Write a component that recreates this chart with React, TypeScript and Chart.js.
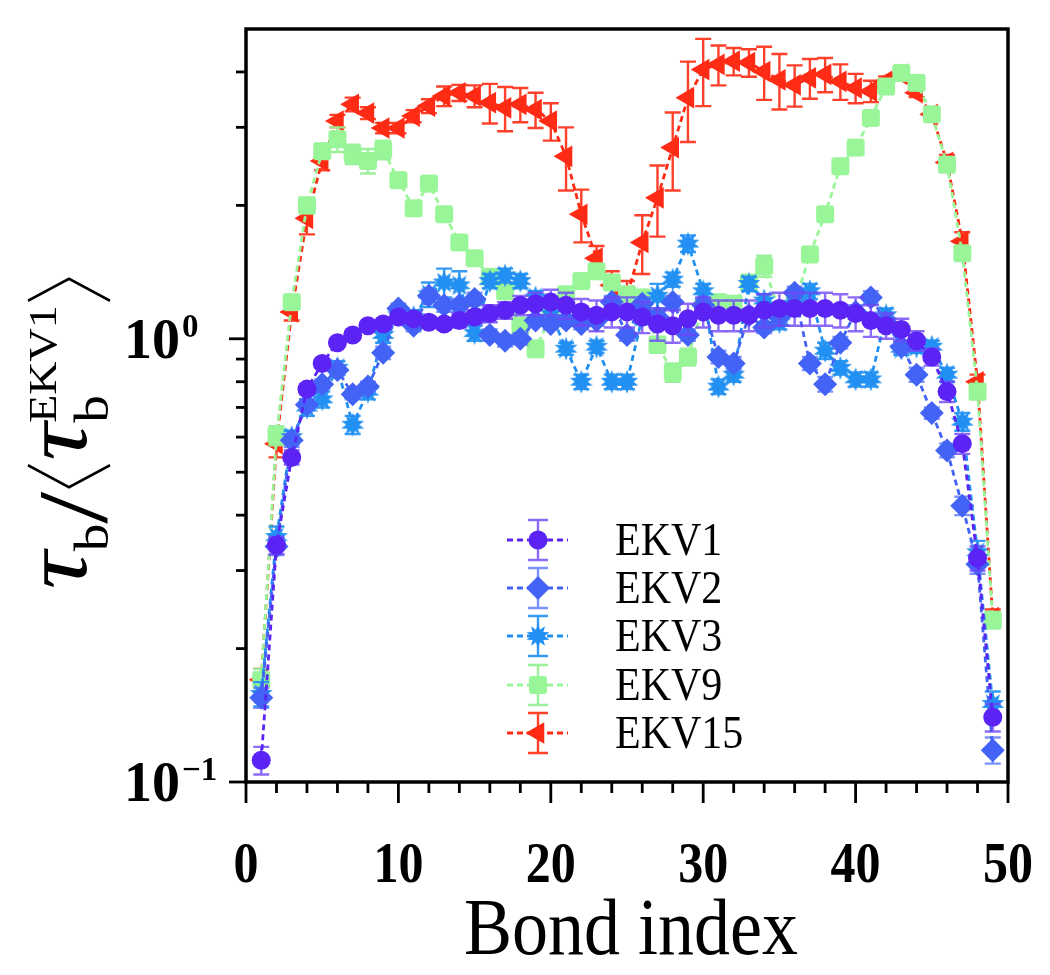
import React, { useEffect, useRef } from 'react';
import { Chart, registerables } from 'chart.js';

Chart.register(...registerables);

// ---------------- data ----------------
const bondIndex = [
  1, 2, 3, 4, 5, 6, 7, 8, 9, 10, 11, 12, 13, 14, 15, 16, 17, 18, 19, 20,
  21, 22, 23, 24, 25, 26, 27, 28, 29, 30, 31, 32, 33, 34, 35, 36, 37, 38, 39, 40,
  41, 42, 43, 44, 45, 46, 47, 48, 49,
];

const ekv1 = [
  0.112, 0.342, 0.54, 0.77, 0.88, 0.98, 1.02, 1.07, 1.08, 1.12,
  1.11, 1.09, 1.08, 1.10, 1.12, 1.14, 1.16, 1.19, 1.20, 1.21,
  1.19, 1.15, 1.13, 1.15, 1.15, 1.12, 1.08, 1.07, 1.11, 1.15,
  1.13, 1.13, 1.13, 1.16, 1.17, 1.17, 1.17, 1.17, 1.16, 1.14,
  1.10, 1.07, 1.05, 0.99, 0.91, 0.76, 0.58, 0.32, 0.14,
];
const ekv1Err = [
  0.008, 0.015, 0.02, 0.02, 0.02, 0.02, 0.02, 0.02, 0.02, 0.02,
  0.03, 0.03, 0.03, 0.04, 0.04, 0.05, 0.05, 0.06, 0.07, 0.08,
  0.08, 0.08, 0.09, 0.09, 0.09, 0.09, 0.09, 0.09, 0.09, 0.09,
  0.09, 0.09, 0.09, 0.1, 0.1, 0.1, 0.1, 0.1, 0.1, 0.1,
  0.09, 0.07, 0.06, 0.05, 0.04, 0.04, 0.03, 0.02, 0.01,
];

const ekv2 = [
  0.155, 0.34, 0.59, 0.71, 0.79, 0.85, 0.75, 0.78, 0.93, 1.17,
  1.07, 1.25, 1.19, 1.19, 1.23, 1.02, 0.99, 1.00, 1.10, 1.08,
  1.10, 1.08, 1.10, 1.21, 1.02, 1.20, 1.12, 1.21, 1.02, 1.19,
  0.91, 0.88, 1.13, 1.06, 1.12, 1.27, 0.88, 0.79, 0.98, 1.15,
  1.24, 1.09, 0.96, 0.83, 0.68, 0.56, 0.42, 0.31, 0.118,
];
const ekv2Err = [
  0.008, 0.015, 0.02, 0.02, 0.02, 0.02, 0.02, 0.02, 0.03, 0.03,
  0.03, 0.04, 0.04, 0.04, 0.04, 0.03, 0.03, 0.03, 0.03, 0.03,
  0.03, 0.03, 0.03, 0.04, 0.03, 0.04, 0.03, 0.04, 0.03, 0.04,
  0.03, 0.03, 0.03, 0.03, 0.03, 0.04, 0.03, 0.03, 0.03, 0.04,
  0.04, 0.03, 0.03, 0.03, 0.02, 0.02, 0.02, 0.015, 0.008,
];

const ekv3 = [
  0.158, 0.357, 0.60, 0.70, 0.73, 0.86, 0.64, 0.76, 1.02, 1.13,
  1.12, 1.26, 1.34, 1.32, 1.03, 1.35, 1.39, 1.35, 1.24, 1.14,
  0.95, 0.80, 0.96, 0.80, 0.80, 1.12, 1.25, 1.36, 1.64, 1.28,
  0.78, 0.83, 1.33, 1.22, 1.09, 1.20, 1.28, 0.94, 0.86, 0.81,
  0.81, 1.13, 0.95, 0.96, 0.96, 0.83, 0.65, 0.33, 0.15,
];
const ekv3Err = [
  0.01, 0.02, 0.02, 0.03, 0.03, 0.03, 0.03, 0.03, 0.04, 0.04,
  0.04, 0.08, 0.1, 0.1, 0.04, 0.05, 0.05, 0.05, 0.04, 0.04,
  0.03, 0.03, 0.03, 0.03, 0.03, 0.04, 0.08, 0.05, 0.07, 0.05,
  0.03, 0.03, 0.05, 0.04, 0.04, 0.04, 0.05, 0.04, 0.03, 0.03,
  0.03, 0.04, 0.03, 0.03, 0.03, 0.03, 0.03, 0.02, 0.01,
];

const ekv9 = [
  0.17, 0.605, 1.21, 2.0, 2.65, 2.82, 2.61, 2.52, 2.67, 2.28,
  1.97, 2.24, 1.91, 1.65, 1.52, 1.38, 1.28, 1.07, 0.95, 1.12,
  1.26, 1.35, 1.42, 1.34, 1.26, 1.24, 0.97, 0.84, 0.91, 1.18,
  1.21, 1.20, 1.34, 1.46, 1.15, 1.20, 1.55, 1.91, 2.45, 2.70,
  3.15, 3.71, 3.98, 3.78, 3.21, 2.47, 1.56, 0.76, 0.232,
];
const ekv9Err = [
  0.01, 0.03, 0.04, 0.08, 0.1, 0.18, 0.13, 0.16, 0.13, 0.05,
  0.05, 0.05, 0.05, 0.05, 0.05, 0.04, 0.04, 0.04, 0.04, 0.04,
  0.04, 0.04, 0.05, 0.04, 0.04, 0.04, 0.04, 0.04, 0.04, 0.04,
  0.04, 0.04, 0.05, 0.08, 0.04, 0.04, 0.05, 0.06, 0.06, 0.06,
  0.06, 0.06, 0.06, 0.06, 0.06, 0.06, 0.05, 0.03, 0.01,
];

const ekv15 = [
  0.17, 0.58, 1.15, 1.87, 2.52, 3.10, 3.38, 3.23, 2.99, 2.99,
  3.18, 3.35, 3.53, 3.59, 3.53, 3.41, 3.32, 3.38, 3.29, 3.10,
  2.58, 1.91, 1.52, 1.32, 1.25, 1.65, 2.08, 2.70, 3.50, 4.05,
  4.16, 4.23, 4.20, 4.01, 3.84, 3.74, 3.88, 3.95, 3.81, 3.68,
  3.62, 3.81, 3.95, 3.59, 3.21, 2.50, 1.66, 0.80, 0.235,
];
const ekv15Err = [
  0.01, 0.04, 0.05, 0.15, 0.12, 0.1, 0.12, 0.1, 0.08, 0.08,
  0.1, 0.12, 0.18, 0.15, 0.2, 0.35, 0.38, 0.3, 0.3, 0.3,
  0.42, 0.26, 0.1, 0.1, 0.1, 0.25, 0.38, 0.54, 0.72, 0.7,
  0.43, 0.3, 0.3, 0.55, 0.55, 0.4, 0.4, 0.35, 0.35, 0.28,
  0.2, 0.1, 0.1, 0.08, 0.08, 0.1, 0.08, 0.03, 0.01,
];

const seriesNames = ['EKV1', 'EKV2', 'EKV3', 'EKV9', 'EKV15'];
const seriesColors = ['#5b24f4', '#4263f5', '#2190f2', '#98f598', '#ff2b14'];
const errColors = [
  'rgba(110,70,246,0.8)',
  'rgba(90,120,246,0.8)',
  'rgba(33,144,242,0.9)',
  'rgba(150,240,150,0.95)',
  'rgba(255,43,20,0.9)',
];

const xTicks = [0, 10, 20, 30, 40, 50];
const yMajorTicks = [0.1, 1];
const yMinorTicks = [0.2, 0.3, 0.4, 0.5, 0.6, 0.7, 0.8, 0.9, 2, 3, 4];

// ---------------- marker images ----------------
function makeStar(color: string, r: number, spikes: number, inner: number) {
  const c = document.createElement('canvas');
  const s = Math.ceil(2 * r + 2);
  c.width = s;
  c.height = s;
  const g = c.getContext('2d')!;
  g.fillStyle = color;
  g.beginPath();
  for (let k = 0; k < spikes * 2; k++) {
    const a = (Math.PI * k) / spikes - Math.PI / 2;
    const rr = k % 2 === 0 ? r : r * inner;
    const px = s / 2 + Math.cos(a) * rr;
    const py = s / 2 + Math.sin(a) * rr;
    if (k === 0) g.moveTo(px, py);
    else g.lineTo(px, py);
  }
  g.closePath();
  g.fill();
  return c;
}

function makeRoundSquare(color: string, half: number, corner: number) {
  const c = document.createElement('canvas');
  const s = Math.ceil(2 * half + 2);
  c.width = s;
  c.height = s;
  const g = c.getContext('2d')!;
  g.fillStyle = color;
  const x0 = s / 2 - half;
  const y0 = s / 2 - half;
  const w = 2 * half;
  g.beginPath();
  g.moveTo(x0 + corner, y0);
  g.lineTo(x0 + w - corner, y0);
  g.quadraticCurveTo(x0 + w, y0, x0 + w, y0 + corner);
  g.lineTo(x0 + w, y0 + w - corner);
  g.quadraticCurveTo(x0 + w, y0 + w, x0 + w - corner, y0 + w);
  g.lineTo(x0 + corner, y0 + w);
  g.quadraticCurveTo(x0, y0 + w, x0, y0 + w - corner);
  g.lineTo(x0, y0 + corner);
  g.quadraticCurveTo(x0, y0, x0 + corner, y0);
  g.closePath();
  g.fill();
  return c;
}

const SERIF = '"Liberation Serif", "DejaVu Serif", serif';

const R_CIRCLE = 9.5;
const R_DIAMOND = 12;
const R_TRI = 12.5;

function drawMarker(ctx: CanvasRenderingContext2D, kind: number, x: number, y: number, color: string, img: any) {
  ctx.save();
  ctx.fillStyle = color;
  ctx.beginPath();
  if (kind === 0) {
    ctx.arc(x, y, R_CIRCLE, 0, Math.PI * 2);
    ctx.fill();
  } else if (kind === 1) {
    const r = R_DIAMOND;
    ctx.moveTo(x - r, y);
    ctx.lineTo(x, y - r);
    ctx.lineTo(x + r, y);
    ctx.lineTo(x, y + r);
    ctx.closePath();
    ctx.fill();
  } else if (kind === 4) {
    const r = R_TRI;
    ctx.moveTo(x - r, y);
    ctx.lineTo(x + r * 0.5, y - r * 0.866);
    ctx.lineTo(x + r * 0.5, y + r * 0.866);
    ctx.closePath();
    ctx.fill();
  } else if (img) {
    ctx.drawImage(img, x - img.width / 2, y - img.height / 2);
  }
  ctx.restore();
}

function stretchText(ctx: CanvasRenderingContext2D, text: string, x: number, y: number, sy: number) {
  ctx.save();
  ctx.translate(x, y);
  ctx.scale(1, sy);
  ctx.fillText(text, 0, 0);
  ctx.restore();
}

export default function App() {
  const ref = useRef<HTMLCanvasElement | null>(null);

  useEffect(() => {
    if (!ref.current) return;
    const starImg = makeStar(seriesColors[2], 12, 10, 0.55);
    const sqImg = makeRoundSquare(seriesColors[3], 9, 3);

    const values = [ekv1, ekv2, ekv3, ekv9, ekv15];
    const errs = [ekv1Err, ekv2Err, ekv3Err, ekv9Err, ekv15Err];
    const styles: any[] = ['circle', 'rectRot', starImg, sqImg, 'triangle'];
    const radii = [R_CIRCLE, R_DIAMOND, 12, 9, R_TRI];
    const rotations = [0, 0, 0, 0, -90];

    const datasets = values.map((vals, k) => ({
      label: seriesNames[k],
      data: bondIndex.map((x, i) => ({ x, y: vals[i] })),
      errors: errs[k],
      borderColor: seriesColors[k],
      backgroundColor: seriesColors[k],
      pointBackgroundColor: seriesColors[k],
      pointBorderColor: seriesColors[k],
      pointBorderWidth: 0,
      pointStyle: styles[k],
      pointRadius: radii[k],
      pointRotation: rotations[k],
      borderWidth: 2.8,
      borderDash: [6, 4],
      fill: false,
      tension: 0,
      clip: 20,
    }));

    const errorBarPlugin = {
      id: 'errorBars',
      beforeDatasetDraw(chart: any, args: any) {
        const ctx = chart.ctx;
        const ds = chart.data.datasets[args.index];
        const ys = chart.scales.y;
        ctx.save();
        ctx.strokeStyle = errColors[args.index];
        ctx.lineWidth = 2.4;
        ctx.setLineDash([]);
        args.meta.data.forEach((pt: any, i: number) => {
          const v = ds.data[i].y;
          const e = ds.errors[i];
          const top = ys.getPixelForValue(v + e);
          const bot = ys.getPixelForValue(Math.max(v - e, 0.001));
          const px = pt.x;
          ctx.beginPath();
          ctx.moveTo(px, top);
          ctx.lineTo(px, bot);
          ctx.moveTo(px - 8, top);
          ctx.lineTo(px + 8, top);
          ctx.moveTo(px - 8, bot);
          ctx.lineTo(px + 8, bot);
          ctx.stroke();
        });
        ctx.restore();
      },
    };

    const axesPlugin = {
      id: 'axesDecor',
      afterDraw(chart: any) {
        const ctx: CanvasRenderingContext2D = chart.ctx;
        const a = chart.chartArea;
        const xs = chart.scales.x;
        const ys = chart.scales.y;
        ctx.save();
        ctx.setLineDash([]);
        ctx.strokeStyle = '#000';
        ctx.lineWidth = 3.5;
        ctx.strokeRect(a.left, a.top, a.right - a.left, a.bottom - a.top);

        // y ticks
        ctx.lineWidth = 2.8;
        yMajorTicks.forEach((v) => {
          const py = ys.getPixelForValue(v);
          ctx.beginPath();
          ctx.moveTo(a.left - 17, py);
          ctx.lineTo(a.left, py);
          ctx.stroke();
        });
        yMinorTicks.forEach((v) => {
          const py = ys.getPixelForValue(v);
          ctx.beginPath();
          ctx.moveTo(a.left - 10, py);
          ctx.lineTo(a.left, py);
          ctx.stroke();
        });
        // x ticks
        for (let v = 0; v <= 50; v += 2) {
          const px = xs.getPixelForValue(v);
          const major = v % 10 === 0;
          ctx.beginPath();
          ctx.moveTo(px, a.bottom);
          ctx.lineTo(px, a.bottom + (major ? 21 : 11));
          ctx.stroke();
        }

        ctx.fillStyle = '#000';
        // x tick labels
        ctx.font = `bold 50px ${SERIF}`;
        ctx.textAlign = 'center';
        ctx.textBaseline = 'alphabetic';
        xTicks.forEach((v) => {
          stretchText(ctx, String(v), xs.getPixelForValue(v), 882, 1.12);
        });

        // y tick labels 10^0, 10^-1
        const yLabels = [
          { v: 1, sup: '0' },
          { v: 0.1, sup: '\u22121' },
        ];
        ctx.textAlign = 'left';
        yLabels.forEach((l) => {
          const py = ys.getPixelForValue(l.v);
          ctx.font = `bold 56px ${SERIF}`;
          const w1 = ctx.measureText('10').width;
          const left = 124;
          ctx.fillText('10', left, py + 19);
          ctx.font = `bold 33px ${SERIF}`;
          ctx.fillText(l.sup, left + w1 + 2, py - 2);
        });

        // x title
        ctx.font = `72px ${SERIF}`;
        ctx.textAlign = 'center';
        stretchText(ctx, 'Bond index', (a.left + a.right) / 2 + 4, 954, 1.12);

        // y title, rotated
        ctx.save();
        const baseX = 86;
        const centerY = 434;
        ctx.translate(baseX, centerY);
        ctx.rotate(-Math.PI / 2);
        ctx.scale(1.15, 1);
        ctx.textAlign = 'left';
        const fTau = `italic 92px ${SERIF}`;
        const fSub = `48px ${SERIF}`;
        const fSup = `40px ${SERIF}`;
        const fSlash = `100px ${SERIF}`;
        const meas = (f: string, t: string) => {
          ctx.font = f;
          return ctx.measureText(t).width;
        };
        const wTau = meas(fTau, '\u03c4');
        const wSub = meas(fSub, 'b');
        const wSlash = meas(fSlash, '/');
        const wSup = meas(fSup, 'EKV1');
        const wBr = 19;
        const gap = 4;
        const total = wTau + wSub + wSlash + wBr + gap * 2 + wTau + Math.max(wSub, wSup) + gap + wBr;
        let cx = -total / 2;
        ctx.font = fTau;
        ctx.fillText('\u03c4', cx, 0);
        cx += wTau;
        ctx.font = fSub;
        ctx.fillText('b', cx, 22);
        cx += wSub;
        ctx.font = fSlash;
        ctx.fillText('/', cx, 20);
        cx += wSlash + gap;
        // left angle bracket
        ctx.lineWidth = 2.4;
        ctx.strokeStyle = '#000';
        ctx.beginPath();
        ctx.moveTo(cx + wBr, -58);
        ctx.lineTo(cx, -17);
        ctx.lineTo(cx + wBr, 24);
        ctx.stroke();
        cx += wBr + gap;
        ctx.font = fTau;
        ctx.fillText('\u03c4', cx, 0);
        cx += wTau;
        ctx.font = fSub;
        ctx.fillText('b', cx, 22);
        ctx.font = fSup;
        ctx.fillText('EKV1', cx, -30);
        cx += Math.max(wSub, wSup) + gap;
        ctx.beginPath();
        ctx.moveTo(cx, -58);
        ctx.lineTo(cx + wBr, -17);
        ctx.lineTo(cx, 24);
        ctx.stroke();
        ctx.restore();

        // legend
        const rowY = [540, 588, 636, 685, 733];
        const imgs = [null, null, starImg, sqImg, null];
        seriesNames.forEach((name, k) => {
          const y = rowY[k];
          ctx.save();
          ctx.strokeStyle = seriesColors[k];
          ctx.lineWidth = 2.8;
          ctx.setLineDash([6, 4]);
          ctx.beginPath();
          ctx.moveTo(507, y);
          ctx.lineTo(568, y);
          ctx.stroke();
          ctx.setLineDash([]);
          ctx.strokeStyle = errColors[k];
          ctx.lineWidth = 2.4;
          ctx.beginPath();
          ctx.moveTo(538, y - 20);
          ctx.lineTo(538, y + 20);
          ctx.moveTo(528, y - 20);
          ctx.lineTo(548, y - 20);
          ctx.moveTo(528, y + 20);
          ctx.lineTo(548, y + 20);
          ctx.stroke();
          ctx.restore();
          drawMarker(ctx, k, 538, y, seriesColors[k], imgs[k]);
          ctx.fillStyle = '#000';
          ctx.font = `42px ${SERIF}`;
          ctx.textAlign = 'left';
          ctx.textBaseline = 'alphabetic';
          stretchText(ctx, name, 615, y + 15, 1.08);
        });
        ctx.restore();
      },
    };

    const chart = new Chart(ref.current, {
      type: 'line',
      data: { datasets: datasets as any },
      options: {
        responsive: true,
        maintainAspectRatio: false,
        animation: false,
        devicePixelRatio: 1,
        layout: { padding: { left: 246, right: 42, top: 29, bottom: 193 } },
        plugins: { legend: { display: false }, tooltip: { enabled: false } },
        scales: {
          x: { type: 'linear', min: 0, max: 50, display: false },
          y: { type: 'logarithmic', min: 0.1, max: 5, display: false },
        },
      },
      plugins: [errorBarPlugin, axesPlugin],
    });
    return () => chart.destroy();
  }, []);

  return (
    <div style={{ position: 'absolute', left: 0, top: 0, width: 1050, height: 975, background: '#fff' }}>
      <canvas ref={ref} />
    </div>
  );
}
